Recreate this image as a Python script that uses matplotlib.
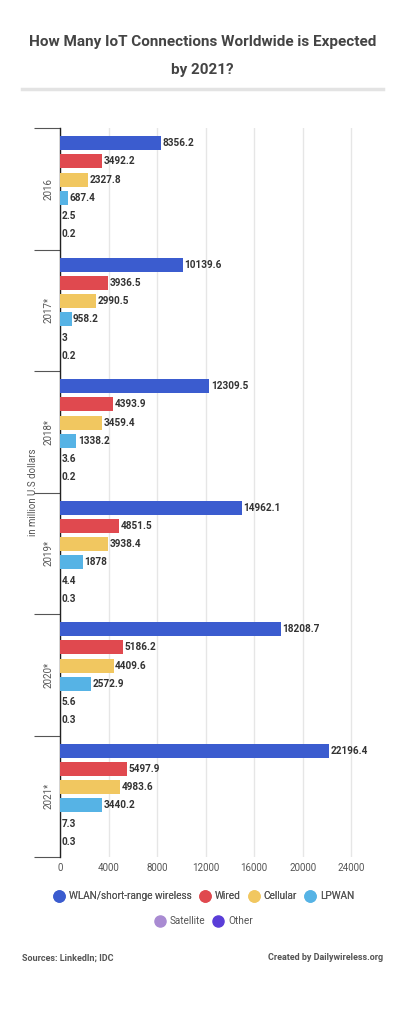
import numpy as np
import matplotlib.pyplot as plt
from matplotlib.lines import Line2D

plt.rcParams['font.family'] = ['Roboto', 'DejaVu Sans']

years = ['2016', '2017*', '2018*', '2019*', '2020*', '2021*']
series = ['WLAN/short-range wireless', 'Wired', 'Cellular', 'LPWAN', 'Satellite', 'Other']
wlan = [8356.2, 10139.6, 12309.5, 14962.1, 18208.7, 22196.4]
wired = [3492.2, 3936.5, 4393.9, 4851.5, 5186.2, 5497.9]
cellular = [2327.8, 2990.5, 3459.4, 3938.4, 4409.6, 4983.6]
lpwan = [687.4, 958.2, 1338.2, 1878, 2572.9, 3440.2]
satellite = [2.5, 3, 3.6, 4.4, 5.6, 7.3]
other = [0.2, 0.2, 0.2, 0.3, 0.3, 0.3]
colors = ['#3b5ccf', '#e0494f', '#f1c760', '#56b3e5', '#a98bd2', '#5a3dd8']
xticks = [0, 4000, 8000, 12000, 16000, 20000, 24000]

fig = plt.figure(figsize=(4.05, 10.24), dpi=100)
W, H = 405, 1024
ax = fig.add_axes([60 / W, 1 - 857 / H, (378 - 60) / W, (857 - 128) / H])

data = [wlan, wired, cellular, lpwan, satellite, other]
slot = 0.15
bh = 0.115
for i, vals in enumerate(data):
    pos = np.arange(len(years)) + 0.5 - 2.5 * slot + i * slot
    bars = ax.barh(pos, vals, height=bh, color=colors[i], zorder=3)
    for b, v in zip(bars, vals):
        ax.text(b.get_width() + 120, b.get_y() + b.get_height() / 2, f'{v:g}',
                va='center', ha='left', fontsize=7.2, fontweight='bold',
                color='#333333', zorder=4)

ax.set_ylim(len(years), 0)
ax.set_xlim(0, 26200)
ax.set_yticks(np.arange(len(years) + 1))
ax.set_yticklabels([])
ax.tick_params(axis='y', length=19, width=0.8, color='#555555')
for j, y in enumerate(years):
    ax.text(-0.035, j + 0.5, y, transform=ax.get_yaxis_transform(),
            rotation=90, va='center', ha='center', fontsize=7, color='#555555')

ax.set_xticks(xticks)
ax.set_xticklabels([str(t) for t in xticks], fontsize=7, color='#555555')
ax.tick_params(axis='x', length=0, pad=4)
ax.xaxis.grid(True, color='#e6e6e6', linewidth=1, zorder=0)
for s in ['top', 'right', 'bottom']:
    ax.spines[s].set_visible(False)
ax.spines['left'].set_color('#222222')
ax.spines['left'].set_linewidth(1)
fig.text(33 / W, 1 - 492 / H, 'in million U.S dollars', rotation=90,
         ha='center', va='center', fontsize=7, color='#555555')

fig.text(0.5, 1 - 42 / H, 'How Many IoT Connections Worldwide is Expected',
         ha='center', va='center', fontsize=11, fontweight='bold', color='#444444')
fig.text(0.5, 1 - 70 / H, 'by 2021?', ha='center', va='center',
         fontsize=11, fontweight='bold', color='#444444')
fig.add_artist(Line2D([22 / W, 383 / W], [1 - 89 / H, 1 - 89 / H],
                      color='#e3e3e3', linewidth=2.5))

handles = [Line2D([], [], marker='o', linestyle='', markersize=8,
                  markerfacecolor=c, markeredgecolor=c) for c in colors]
leg1 = fig.legend(handles[:4], series[:4], loc='center', ncol=4,
                  bbox_to_anchor=(0.5, 1 - 896 / H), frameon=False, fontsize=7.2,
                  handletextpad=0.2, columnspacing=0.5, handlelength=1.6,
                  labelcolor='#555555')
leg2 = fig.legend(handles[4:], series[4:], loc='center', ncol=2,
                  bbox_to_anchor=(0.5, 1 - 921 / H), frameon=False, fontsize=7.2,
                  handletextpad=0.2, columnspacing=0.5, handlelength=1.6,
                  labelcolor='#555555')
fig.add_artist(leg1)

fig.text(22 / W, 1 - 958 / H, 'Sources: LinkedIn; IDC', ha='left', va='center',
         fontsize=6.5, fontweight='bold', color='#555555')
fig.text(383 / W, 1 - 958 / H, 'Created by Dailywireless.org', ha='right',
         va='center', fontsize=6.5, fontweight='bold', color='#555555')

fig.savefig('out.png', dpi=100, facecolor='white')
